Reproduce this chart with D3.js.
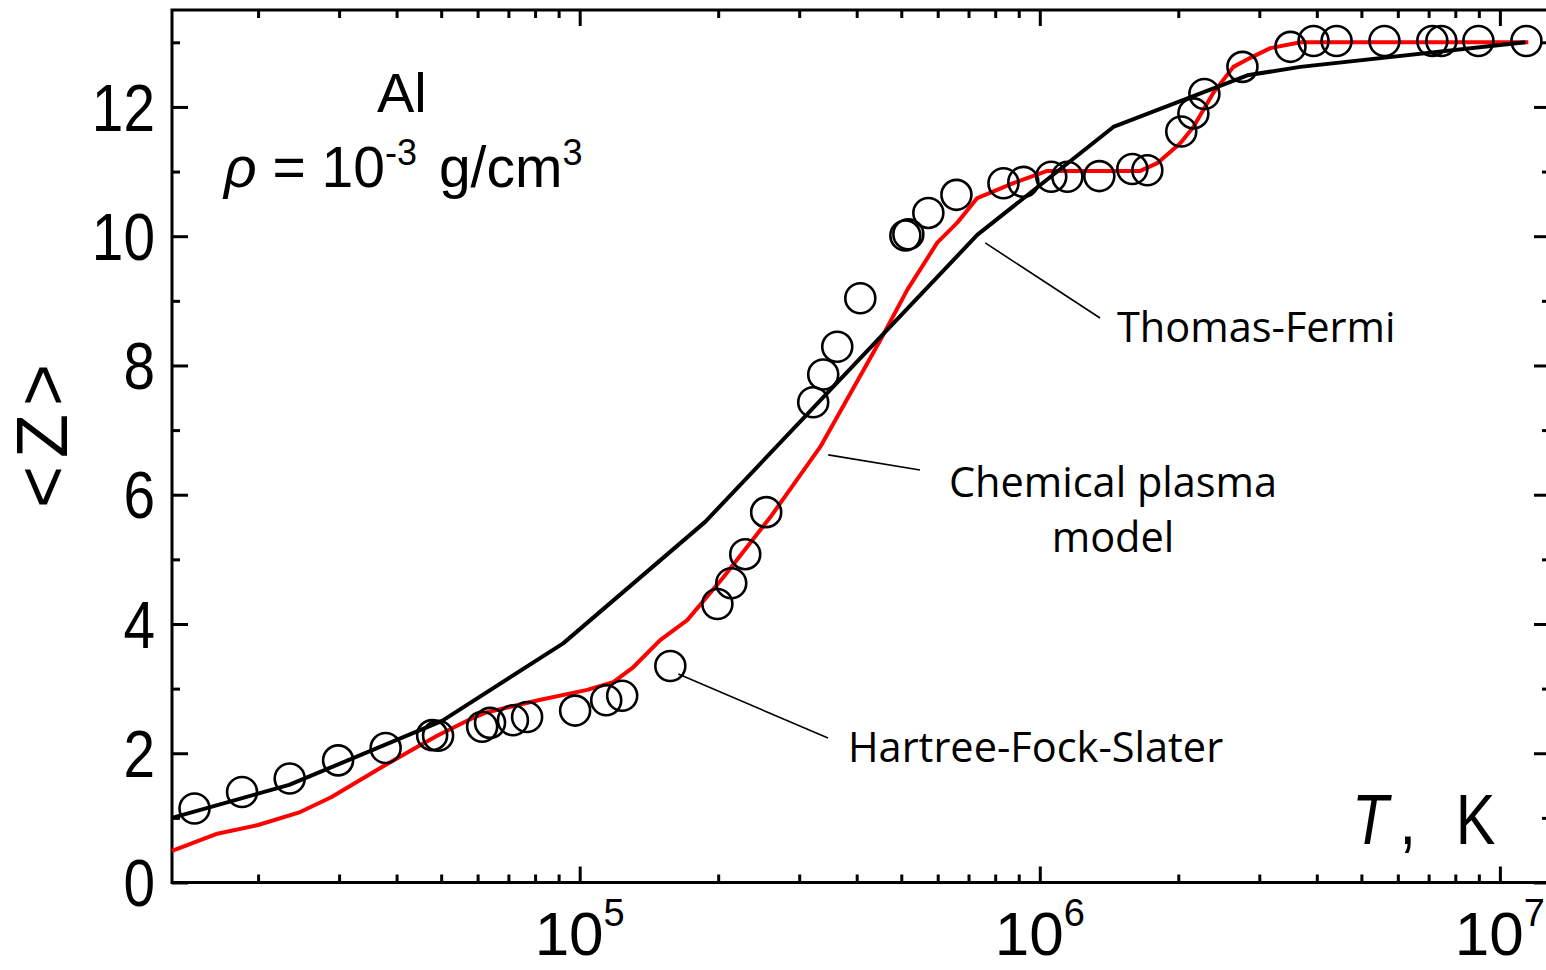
<!DOCTYPE html>
<html>
<head>
<meta charset="utf-8">
<script src="https://cdn.jsdelivr.net/npm/d3@7/dist/d3.min.js"></script>
<style>
  body { margin: 0; background: #fff; }
  svg { display: block; }
</style>
</head>
<body>
<svg id="chart"></svg>
<script>
var width = 1546;
var height = 970;
var plot = { left: 172, right: 1550, top: 10, bottom: 882.5 };

// Thomas-Fermi (black line)
const tfT = [13000, 23360, 50240, 92070, 187400, 731300, 1445000, 2826000, 3684000, 11360000];
const tfZ = [1.00, 1.51, 2.50, 3.70, 5.58, 10.02, 11.69, 12.49, 12.62, 13.00];

// Chemical plasma model (red line)
const cpT = [13000, 16210, 20000, 24690, 28830, 37030, 44120, 49000, 57220, 62630, 81250,
  103800, 118300, 130700, 149600, 171300, 205100, 259500, 333300, 450100, 515200, 598700,
  661800, 731300, 875800, 1038000, 1654000, 1800000, 2020000, 2157000, 2384000, 2635000,
  2869000, 3171000, 3684000, 11530000];
const cpZ = [0.49, 0.75, 0.89, 1.09, 1.32, 1.78, 2.09, 2.27, 2.51, 2.63, 2.82,
  2.98, 3.10, 3.33, 3.75, 4.06, 4.72, 5.65, 6.74, 8.39, 9.17, 9.90,
  10.21, 10.59, 10.82, 11.01, 11.01, 11.13, 11.44, 11.69, 12.22, 12.62,
  12.76, 12.91, 13.00, 13.00];

// Hartree-Fock-Slater (circles)
const hfsT = [14550, 18460, 23430, 29850, 37870, 47790, 49230, 61380, 63850, 71600, 76860,
  97740, 114200, 123700, 157400, 199200, 213500, 229000, 254300, 321800, 338300, 362900,
  407300, 510300, 518000, 572500, 658900, 833800, 921000, 1059000, 1148000, 1347000,
  1589000, 1713000, 2030000, 2157000, 2279000, 2757000, 3506000, 3935000, 4416000,
  5612000, 7130000, 7460000, 8980000, 11420000];
const hfsZ = [1.145, 1.40, 1.61, 1.89, 2.08, 2.28, 2.27, 2.41, 2.47, 2.51, 2.56,
  2.66, 2.82, 2.89, 3.35, 4.31, 4.63, 5.08, 5.73, 7.43, 7.86, 8.29,
  9.04, 10.01, 10.03, 10.36, 10.64, 10.82, 10.84, 10.92, 10.92, 10.93,
  11.04, 11.02, 11.62, 11.90, 12.20, 12.62, 12.93, 13.02, 13.02,
  13.02, 13.02, 13.02, 13.02, 13.02];

const xMajor = [1e5, 1e6, 1e7];
const xMinor = [2e4, 3e4, 4e4, 5e4, 6e4, 7e4, 8e4, 9e4,
  2e5, 3e5, 4e5, 5e5, 6e5, 7e5, 8e5, 9e5,
  2e6, 3e6, 4e6, 5e6, 6e6, 7e6, 8e6, 9e6];
const yMajor = [0, 2, 4, 6, 8, 10, 12];
const yMinor = [1, 3, 5, 7, 9, 11, 13];

const svg = d3.select("#chart").attr("width", width).attr("height", height);

const x = d3.scaleLog().domain([1.3e4, 1.285e7]).range([plot.left, plot.right]);
const y = d3.scaleLinear().domain([0, 13.5]).range([plot.bottom, plot.top]);

const axisFont = "'Liberation Sans', Arial, sans-serif";
const annFont = "'Open Sans', 'Noto Sans', sans-serif";

function drawAxis(axis, transform) {
  const g = svg.append("g").attr("transform", transform).call(axis);
  g.select(".domain").remove();
  g.selectAll("line").attr("stroke", "#000").attr("stroke-width", 3);
  g.selectAll("text").remove();
}

// ticks point inward on all four sides
drawAxis(d3.axisBottom(x).tickValues(xMajor).tickSize(-16), `translate(0,${plot.bottom})`);
drawAxis(d3.axisBottom(x).tickValues(xMinor).tickSize(-8), `translate(0,${plot.bottom})`);
drawAxis(d3.axisTop(x).tickValues(xMajor).tickSize(-16), `translate(0,${plot.top})`);
drawAxis(d3.axisTop(x).tickValues(xMinor).tickSize(-8), `translate(0,${plot.top})`);
drawAxis(d3.axisLeft(y).tickValues(yMajor).tickSize(-16), `translate(${plot.left},0)`);
drawAxis(d3.axisLeft(y).tickValues(yMinor).tickSize(-8), `translate(${plot.left},0)`);
drawAxis(d3.axisRight(y).tickValues(yMajor).tickSize(-16), `translate(${plot.right},0)`);
drawAxis(d3.axisRight(y).tickValues(yMinor).tickSize(-8), `translate(${plot.right},0)`);

// frame
svg.append("rect")
  .attr("x", plot.left).attr("y", plot.top)
  .attr("width", plot.right - plot.left).attr("height", plot.bottom - plot.top)
  .attr("fill", "none").attr("stroke", "#000").attr("stroke-width", 3);

// tick labels (glyphs in the original are a bit condensed)
svg.selectAll(".ylab").data(yMajor).enter().append("text")
  .attr("transform", (d) => `translate(155,${y(d)}) scale(0.86,1)`)
  .attr("dy", "0.36em")
  .attr("text-anchor", "end")
  .style("font-family", axisFont).style("font-size", "66px")
  .text((d) => d);

const xl = svg.selectAll(".xlab").data(xMajor).enter().append("text")
  .attr("x", (d) => x(d)).attr("y", 955)
  .attr("text-anchor", "middle")
  .style("font-family", axisFont).style("font-size", "62px");
xl.append("tspan").text("10");
xl.append("tspan").attr("dy", -29).style("font-size", "38px").text((d) => Math.round(Math.log10(d)));

// axis titles
svg.append("text")
  .attr("transform", "translate(67,432) rotate(-90)")
  .attr("text-anchor", "middle")
  .style("font-family", axisFont).style("font-size", "72px")
  .style("letter-spacing", "8px")
  .text("<Z>");

const tk = svg.append("text")
  .attr("transform", "translate(1352,844) scale(0.85,1)")
  .style("font-family", axisFont).style("font-size", "70px");
tk.append("tspan").attr("x", 0).style("font-style", "italic").text("T");
tk.append("tspan").attr("x", 56).text(",");
tk.append("tspan").attr("x", 122).text("K");

// curves
const line = d3.line().x((d) => x(d[0])).y((d) => y(d[1]));

svg.append("path")
  .datum(d3.zip(cpT, cpZ))
  .attr("d", line)
  .attr("fill", "none").attr("stroke", "#ff0000").attr("stroke-width", 4)
  .attr("stroke-linejoin", "round");

svg.append("path")
  .datum(d3.zip(tfT, tfZ))
  .attr("d", line)
  .attr("fill", "none").attr("stroke", "#000").attr("stroke-width", 4)
  .attr("stroke-linejoin", "round");

svg.selectAll(".hfs").data(d3.zip(hfsT, hfsZ)).enter().append("circle")
  .attr("cx", (d) => x(d[0])).attr("cy", (d) => y(d[1])).attr("r", 15)
  .attr("fill", "none").attr("stroke", "#000").attr("stroke-width", 2.6);

// leader lines + annotations
const leaders = [
  [[731300, 10.02], [1100, 318]],
  [[333300, 6.74], [920, 470]],
  [[157400, 3.35], [828, 738]]
];
leaders.forEach((l) => {
  svg.append("line")
    .attr("x1", x(l[0][0]) + 8).attr("y1", y(l[0][1]) + 8)
    .attr("x2", l[1][0]).attr("y2", l[1][1])
    .attr("stroke", "#000").attr("stroke-width", 1.6);
});

function ann(txt, xx, yy, anchor) {
  svg.append("text").attr("x", xx).attr("y", yy)
    .attr("text-anchor", anchor || "start")
    .style("font-family", annFont).style("font-size", "41.5px")
    .text(txt);
}
ann("Thomas-Fermi", 1117, 342);
ann("Chemical plasma", 1113, 497, "middle");
ann("model", 1113, 552, "middle");
ann("Hartree-Fock-Slater", 848, 762);

// sample label
const labFont = "'Liberation Sans', Arial, sans-serif";
svg.append("text").attr("x", 377).attr("y", 112)
  .style("font-family", labFont).style("font-size", "56px").text("Al");
const rho = svg.append("text").attr("x", 224).attr("y", 187)
  .style("font-family", labFont).style("font-size", "57px");
rho.append("tspan").style("font-style", "italic").text("\u03c1");
rho.append("tspan").text(" = 10");
rho.append("tspan").attr("dy", -22).style("font-size", "36px").text("-3");
rho.append("tspan").attr("dy", 22).attr("dx", 6).text(" g/cm");
rho.append("tspan").attr("dy", -22).style("font-size", "36px").text("3");
</script>
</body>
</html>
